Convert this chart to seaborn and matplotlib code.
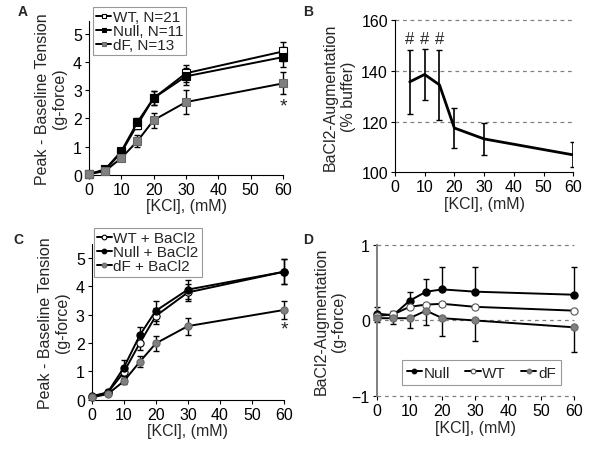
import numpy as np
import pandas as pd
import matplotlib
matplotlib.use("Agg")
import matplotlib.pyplot as plt
import seaborn as sns

sns.set_theme(style="ticks")
plt.rcParams['font.family'] = ['Liberation Sans', 'DejaVu Sans']

kcl = [0, 5, 10, 15, 20, 30, 60]

# panel A: tension in buffer
wt_a = [0.03, 0.17, 0.80, 1.78, 2.72, 3.60, 4.37]
wt_a_err = [0.04, 0.05, 0.10, 0.15, 0.25, 0.30, 0.35]
null_a = [0.03, 0.20, 0.84, 1.87, 2.72, 3.49, 4.17]
null_a_err = [0.04, 0.05, 0.10, 0.15, 0.26, 0.30, 0.34]
df_a = [0.03, 0.14, 0.60, 1.20, 1.94, 2.58, 3.24]
df_a_err = [0.04, 0.05, 0.10, 0.22, 0.27, 0.41, 0.39]

# panel B: % augmentation
kcl_b = [5, 10, 15, 20, 30, 60]
aug_b = [135.7, 138.6, 134.5, 117.5, 113.2, 106.9]
aug_b_err = [12.5, 10.0, 13.8, 7.8, 6.2, 4.9]

# panel C: tension with BaCl2
wt_c = [0.10, 0.25, 0.97, 2.00, 2.96, 3.79, 4.52]
wt_c_err = [0.05, 0.05, 0.20, 0.26, 0.27, 0.30, 0.45]
null_c = [0.12, 0.26, 1.13, 2.28, 3.14, 3.89, 4.52]
null_c_err = [0.05, 0.05, 0.28, 0.30, 0.35, 0.35, 0.45]
df_c = [0.08, 0.20, 0.65, 1.34, 1.99, 2.60, 3.17]
df_c_err = [0.04, 0.05, 0.10, 0.20, 0.27, 0.30, 0.31]

# panel D: absolute augmentation
null_d = [0.09, 0.07, 0.26, 0.38, 0.41, 0.38, 0.34]
null_d_err = [0.09, 0.05, 0.12, 0.17, 0.29, 0.33, 0.36]
wt_d = [0.06, 0.08, 0.18, 0.21, 0.22, 0.18, 0.13]
df_d = [0.03, 0.03, 0.03, 0.13, 0.03, 0.00, -0.09]
df_d_err = [0.05, 0.07, 0.13, 0.19, 0.23, 0.27, 0.32]

fig = plt.figure(figsize=(6.01, 4.6), dpi=100)
axA = fig.add_axes([0.148, 0.6174, 0.323, 0.335])
axB = fig.add_axes([0.657, 0.623, 0.297, 0.331])
axC = fig.add_axes([0.1526, 0.1289, 0.320, 0.3385])
axD = fig.add_axes([0.6268, 0.1363, 0.3283, 0.3296])

fs = 11.5
grey = '#808080'


def series(ax, y, err, label, marker, fc, ec, lower=True, upper=True):
    if err is not None:
        e = [err if lower else [0] * len(err), err if upper else [0] * len(err)]
        ax.errorbar(kcl, y, yerr=e, fmt='none', ecolor='black', elinewidth=1.0,
                    capsize=2, capthick=1.0, zorder=2, clip_on=False)
    sns.lineplot(x=kcl, y=y, ax=ax, color='black', linewidth=1.4, marker=marker,
                 markersize=5.2, markerfacecolor=fc, markeredgecolor=ec,
                 markeredgewidth=0.8, label=label, zorder=3, clip_on=False)


def style(ax, ylabel):
    ax.set_xlim(0, 60)
    ax.set_xticks(range(0, 61, 10))
    ax.set_xlabel('[KCl], (mM)', fontsize=fs, labelpad=1)
    ax.set_ylabel(ylabel, fontsize=fs, labelpad=4)
    ax.tick_params(labelsize=fs, length=3, width=0.8, pad=2, colors='black')
    for s in ['top', 'right']:
        ax.spines[s].set_visible(False)
    for s in ['left', 'bottom']:
        ax.spines[s].set_color('black')
        ax.spines[s].set_linewidth(0.8)


def legend(ax, anchor, loc='upper left', ncol=1, pad=0.2, colsp=0.6):
    leg = ax.legend(loc=loc, bbox_to_anchor=anchor, ncol=ncol, fontsize=11,
                    frameon=True, fancybox=False, handlelength=1.0, handletextpad=0.1,
                    borderpad=pad, labelspacing=0.0, columnspacing=colsp,
                    borderaxespad=0, markerscale=0.65)
    leg.get_frame().set_edgecolor(grey)
    leg.get_frame().set_linewidth(0.8)
    return leg


# A
series(axA, wt_a, wt_a_err, 'WT, N=21', 's', 'white', 'black')
series(axA, null_a, null_a_err, 'Null, N=11', 's', 'black', 'black')
series(axA, df_a, df_a_err, 'dF, N=13', 's', grey, '#666666')
style(axA, 'Peak - Baseline Tension\n(g-force)')
axA.set_ylim(0, 5.45)
axA.set_yticks(range(0, 6))
axA.text(60, 2.45, '*', ha='center', va='center', fontsize=14)
legend(axA, (0.02, 1.09))

# B
axB.errorbar(kcl_b, aug_b, yerr=aug_b_err, fmt='none', ecolor='black',
             elinewidth=1.2, capsize=2.5, capthick=1.0, zorder=2)
sns.lineplot(x=kcl_b, y=aug_b, ax=axB, color='black', linewidth=2.0, zorder=3)
style(axB, 'BaCl2-Augmentation\n(% buffer)')
axB.set_ylim(100, 160)
axB.set_yticks([100, 120, 140, 160])
for v in [120, 140, 160]:
    axB.axhline(v, color=grey, linestyle=(0, (3, 3)), linewidth=0.9, zorder=0, clip_on=False)
for xv in [5, 10, 15]:
    axB.text(xv, 152.8, '#', ha='center', va='center', fontsize=12)

# C
series(axC, wt_c, wt_c_err, 'WT + BaCl2', 'o', 'white', 'black')
series(axC, null_c, null_c_err, 'Null + BaCl2', 'o', 'black', 'black')
series(axC, df_c, df_c_err, 'dF + BaCl2', 'o', grey, '#666666')
style(axC, 'Peak - Baseline Tension\n(g-force)')
axC.set_ylim(0, 5.5)
axC.set_yticks(range(0, 6))
axC.text(60, 2.5, '*', ha='center', va='center', fontsize=14)
legend(axC, (0.01, 1.1))

# D
series(axD, null_d, null_d_err, 'Null', 'o', 'black', 'black', lower=False)
series(axD, wt_d, None, 'WT', 'o', 'white', '#555555')
series(axD, df_d, df_d_err, 'dF', 'o', grey, '#666666', upper=False)
style(axD, 'BaCl2-Augmentation\n(g-force)')
axD.set_ylim(-1, 1)
axD.set_yticks([-1, 0, 1])
axD.spines['bottom'].set_visible(False)
axD.spines['left'].set_color(grey)
axD.spines['left'].set_linewidth(1.4)
for v in [-1, 0, 1]:
    axD.axhline(v, color=grey, linestyle=(0, (3, 3)), linewidth=0.9, zorder=0, clip_on=False)
legend(axD, (0.53, 0.075), loc='lower center', ncol=3, pad=0.35, colsp=1.0)

for lab, x, y in [('A', 0.03, 0.975), ('B', 0.504, 0.975), ('C', 0.022, 0.478), ('D', 0.504, 0.478)]:
    fig.text(x, y, lab, fontsize=10, fontweight='bold', ha='left', va='center')

fig.savefig('out.png', dpi=100)
